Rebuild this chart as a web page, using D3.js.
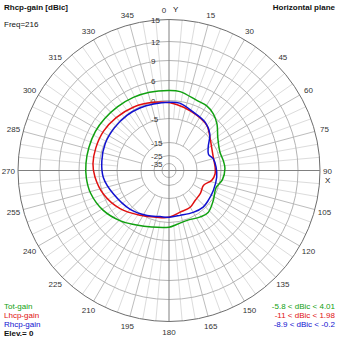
<!DOCTYPE html>
<html><head><meta charset="utf-8">
<script src="https://cdn.jsdelivr.net/npm/d3@7"></script>
<style>body{margin:0;background:#fff}svg{display:block}text{font-family:"Liberation Sans",Arial,sans-serif;font-size:8px}</style>
</head><body><svg id="c" width="339" height="339"></svg>
<script>
// ---- data ----
const ringValues = [15, 12, 9, 6, 0, -5, -15, -25, -35];
const angleLabels = ["0","15","30","45","60","75","90","105","120","135","150","165","180","195","210","225","240","255","270","285","300","315","330","345"];

const totAngles = [0,8,22,30,38,46,56,70,80,88,100,110,124,137,146,160,172,180,197,212,224,239,254,265,275,286,298,309,321,334,346];
const totGain   = [3.0,2.9,1.6,1.5,0.6,-0.9,-3.1,-4.4,-4.1,-3.9,-4.4,-5.8,-4.6,-3.5,-3.9,-4.7,-4.3,-3.7,-3.0,-1.7,0.0,2.1,3.5,3.9,4.0,4.0,4.0,3.8,3.6,3.4,3.2];

const lhcpAngles = [1,13,27,40,51,61,73,86,94,103,113,126,139,150,165,180,195,213,232,250,265,275,287,301,315,331,347];
const lhcpGain   = [-0.6,-1.4,-2.3,-3.1,-4.8,-6.4,-7.4,-7.4,-7.4,-8.4,-11.0,-10.5,-10.1,-9.0,-8.7,-7.2,-6.5,-4.6,-2.2,-0.1,1.3,1.9,1.98,1.9,1.4,0.8,0.0];

const rhcpAngles = [0,9,23,37,48,59,68,75,86,98,114,127,137,150,166,180,191,206,225,247,264,278,293,308,323,335,347];
const rhcpGain   = [-0.5,-0.5,-1.9,-2.7,-4.2,-7.6,-8.9,-7.6,-7.0,-6.6,-6.4,-6.1,-5.8,-6.5,-7.4,-7.2,-7.1,-5.8,-4.2,-2.7,-1.1,-0.6,-0.2,-0.2,-0.2,-0.3,-0.5];

const legendNames = ["Tot-gain","Lhcp-gain","Rhcp-gain"];
const legendRanges = ["-5.8 < dBic < 4.01","-11 < dBic < 1.98","-8.9 < dBic < -0.2"];
const seriesColors = ["#10a010","#e01010","#1010d0"];

// ---- layout ----
const svg = d3.select("#c");
const cx = 169, cy = 170.5, R = 151;
const r = d3.scaleLinear()
  .domain([-35,-25,-15,-5,0,6,9,12,15])
  .range([7,15,28,52,70,90,110,129,R])
  .clamp(true);

const g = svg.append("g").attr("transform",`translate(${cx},${cy})`);
const rad = d => (d - 90) * Math.PI / 180;

// spokes
d3.range(0,360,5).forEach(a => {
  if (a % 90 === 0) return;
  const major = a % 15 === 0;
  const r0 = major ? r(-15) : r(-5);
  g.append("line")
    .attr("x1", r0*Math.cos(rad(a))).attr("y1", r0*Math.sin(rad(a)))
    .attr("x2", R*Math.cos(rad(a))).attr("y2", R*Math.sin(rad(a)))
    .attr("stroke", major ? "#bdbdbd" : "#dcdcdc").attr("stroke-width",1);
});
// rings
ringValues.forEach(v => {
  g.append("circle").attr("r", r(v)).attr("fill","none")
    .attr("stroke", v === 15 ? "#6e6e6e" : "#b4b4b4").attr("stroke-width", 1);
});
// axes
g.append("line").attr("x1",-R).attr("x2",R).attr("y1",0).attr("y2",0).attr("stroke","#808080");
g.append("line").attr("y1",-R).attr("y2",R).attr("x1",0).attr("x2",0).attr("stroke","#808080");

// ring labels
ringValues.forEach(v => {
  g.append("text").attr("x",-18).attr("y",-r(v)+3).text(v).attr("fill","#333");
});

// angle labels
angleLabels.forEach((t,i) => {
  const a = i*15, rr = 161;
  let x = rr*Math.cos(rad(a)), y = rr*Math.sin(rad(a)) + 3;
  let anchor = "middle";
  if (a === 0) { x = -5; }
  if (a === 90) { anchor = "start"; x = R + 3; y = 3; }
  if (a === 270) { anchor = "end"; x = -R - 3; y = 3; }
  g.append("text").attr("x",x).attr("y",y).attr("text-anchor",anchor).text(t).attr("fill","#333");
});
g.append("text").attr("x",4).attr("y",-R-8).text("Y").attr("font-size","10px").attr("fill","#111");
g.append("text").attr("x",R+5).attr("y",12).text("X").attr("font-size","9px").attr("fill","#111");

// curves
const line = d3.lineRadial().curve(d3.curveCatmullRomClosed.alpha(0.5));
const series = [[totAngles,totGain],[lhcpAngles,lhcpGain],[rhcpAngles,rhcpGain]];
series.forEach(([angs,gains],i) => {
  const pts = angs.map((a,j) => [a*Math.PI/180, r(gains[j])]);
  g.append("path").attr("d", line(pts)).attr("fill","none")
    .attr("stroke", seriesColors[i]).attr("stroke-width",1.5);
});

// titles
svg.append("text").attr("x",4).attr("y",10).text("Rhcp-gain [dBic]").attr("font-weight","bold").attr("fill","#111");
svg.append("text").attr("x",4).attr("y",27).text("Freq=216").attr("fill","#111");
svg.append("text").attr("x",335).attr("y",10).attr("text-anchor","end").text("Horizontal plane").attr("font-weight","bold").attr("fill","#111");

// legend
legendNames.forEach((t,i) => {
  svg.append("text").attr("x",4).attr("y",309+i*9).text(t).attr("fill",seriesColors[i]);
  svg.append("text").attr("x",335).attr("y",309+i*9).attr("text-anchor","end").text(legendRanges[i]).attr("fill",seriesColors[i]);
});
svg.append("text").attr("x",4).attr("y",336).text("Elev.= 0").attr("font-weight","bold").attr("fill","#111");
</script></body></html>
